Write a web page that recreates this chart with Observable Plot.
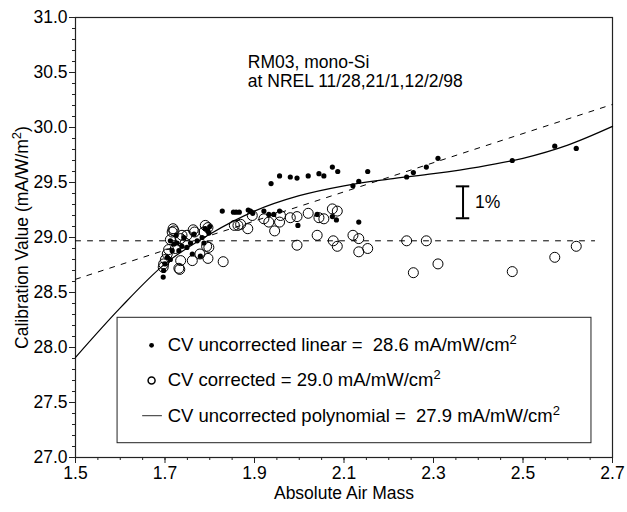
<!DOCTYPE html>
<html>
<head>
<meta charset="utf-8">
<script src="https://cdn.jsdelivr.net/npm/d3@7"></script>
<script src="https://cdn.jsdelivr.net/npm/@observablehq/plot@0.6"></script>
<style>
  html, body { margin: 0; padding: 0; background: #fff; }
</style>
</head>
<body>
<div id="chart"></div>
<script>
// ---- data ----
const uncorrAM = [1.696,1.697,1.700,1.705,1.712,1.716,1.720,1.712,1.727,1.731,1.738,1.749,1.757,1.761,1.772,1.779,1.783,1.787,1.796,1.798,1.725,1.742,1.765,1.790,1.800,
  1.828,1.853,1.859,1.866,1.886,1.891,1.896,1.921,1.932,1.943,1.956,1.997,2.040,2.074,2.083,2.133,
  1.937,1.956,1.980,1.995,2.020,2.044,2.055,2.074,2.086,2.120,2.133,2.153,2.240,2.255,2.284,2.310,2.476,2.571,2.619];
const uncorrCV = [28.64,28.70,28.76,28.82,28.80,28.88,28.94,28.97,28.95,28.88,28.92,28.91,28.95,28.85,28.97,28.83,29.00,28.95,29.06,29.04,29.02,29.00,29.03,29.08,29.10,
  29.24,29.23,29.23,29.23,29.25,29.24,29.22,29.24,29.21,29.21,29.24,29.11,29.21,29.19,29.16,29.14,
  29.49,29.56,29.55,29.54,29.56,29.58,29.56,29.64,29.60,29.47,29.51,29.60,29.55,29.59,29.64,29.72,29.70,29.83,29.81];

const corrAM = [1.696,1.697,1.701,1.705,1.708,1.723,1.716,1.718,1.720,1.735,1.738,1.749,1.763,1.766,1.787,1.790,1.796,1.793,1.798,1.796,1.778,1.761,1.731,1.733,1.735,1.830,1.745,1.712,
  1.855,1.863,1.869,1.885,1.895,1.921,1.932,1.945,1.956,1.958,1.980,1.995,1.995,2.020,2.040,2.044,2.055,2.074,2.076,2.085,2.085,
  2.120,2.133,2.133,2.153,2.240,2.255,2.284,2.310,2.476,2.571,2.619];
const corrCV = [28.73,28.76,28.80,28.85,28.89,28.90,29.05,29.08,29.06,28.99,29.02,29.02,29.07,29.05,29.05,29.11,29.09,28.92,28.91,28.81,28.85,28.79,28.72,28.71,28.79,28.78,28.95,28.98,
  29.11,29.11,29.12,29.08,29.20,29.17,29.14,29.06,29.14,29.20,29.18,29.19,28.93,29.22,29.02,29.18,29.17,29.26,28.97,29.24,28.92,
  29.02,28.99,28.87,28.90,28.97,28.68,28.97,28.76,28.69,28.82,28.92];

// polynomial fit curve
const polyAM = [1.5,1.6,1.7,1.8,1.9,2.0,2.1,2.2,2.3,2.4,2.5,2.6,2.7];
const polyCV = [27.91,28.36,28.76,29.03,29.24,29.38,29.47,29.53,29.58,29.64,29.72,29.84,30.01];

// linear fit (dashed) and corrected mean (dashed)
const linAM = [1.5, 2.7];
const linCV = [28.62, 30.21];
const corrLineAM = [1.5, 2.66];
const corrLineCV = [28.97, 28.97];

// 1% bar
const barAM = [2.366];
const barEnds = [29.175, 29.465];

const xTickLabels = [1.5, 1.7, 1.9, 2.1, 2.3, 2.5, 2.7];
const yTickLabels = [27.0, 27.5, 28.0, 28.5, 29.0, 29.5, 30.0, 30.5, 31.0];
const xMinorTicks = d3.range(0, 25).map(i => 1.5 + i * 0.05);
const yMinorTicks = d3.range(0, 41).map(i => 27 + i * 0.1);

const annotation = ["RM03, mono-Si", "at NREL 11/28,21/1,12/2/98"];
const legendLabels = [
  "CV uncorrected linear =  28.6 mA/mW/cm^2",
  "CV corrected = 29.0 mA/mW/cm^2",
  "CV uncorrected polynomial =  27.9 mA/mW/cm^2"
];

// ---- layout (positions in data space, not data) ----
const legendBox = {x1: 1.594, x2: 2.653, y1: 27.13, y2: 28.27};
const legendTextAM = 1.706;
const legendRowCV = [28.02, 27.70, 27.38];
const legendSymAM = 1.670;
const capHalf = 0.015;
const annotAM = 1.885, annotCV = 30.51;

const pts = (xs, ys) => xs.map((x, i) => ({x, y: ys[i]}));
const font = "Liberation Sans, Arial, Helvetica, sans-serif";

const chart = Plot.plot({
  width: 627,
  height: 512,
  marginLeft: 75,
  marginRight: 15,
  marginTop: 17,
  marginBottom: 55,
  style: {fontFamily: font, fontSize: "17px", color: "#000", background: "#fff"},
  x: {type: "linear", domain: [1.5, 2.7], label: null},
  y: {type: "linear", domain: [27, 31], label: null},
  marks: [
    Plot.frame({stroke: "#222", strokeWidth: 1.2}),
    Plot.axisX(xMinorTicks, {tickSize: 3, tickFormat: () => "", label: null, stroke: "#222"}),
    Plot.axisX(xTickLabels, {tickSize: 6, tickPadding: 3, tickFormat: d => d.toFixed(1), label: null, fontSize: 17.5, stroke: "#222"}),
    Plot.axisY(yMinorTicks, {tickSize: 3, tickFormat: () => "", label: null, stroke: "#222"}),
    Plot.axisY(yTickLabels, {tickSize: 6, tickPadding: 2, tickFormat: d => d.toFixed(1), label: null, fontSize: 17.5, stroke: "#222"}),
    Plot.text(["Absolute Air Mass"], {frameAnchor: "bottom", dy: 41, fontSize: 17.5}),
    Plot.text(["Calibration Value (mA/W/m^2)"], {frameAnchor: "left", textAnchor: "middle", rotate: -90, dx: -53, fontSize: 17.5}),

    // fits
    Plot.line(pts(corrLineAM, corrLineCV), {x: "x", y: "y", stroke: "#000", strokeWidth: 1, strokeDasharray: "5,7"}),
    Plot.line(pts(linAM, linCV), {x: "x", y: "y", stroke: "#000", strokeWidth: 1, strokeDasharray: "5,7"}),
    Plot.line(pts(polyAM, polyCV), {x: "x", y: "y", stroke: "#000", strokeWidth: 1.2, curve: "monotone-x"}),

    // data
    Plot.dot(pts(corrAM, corrCV), {x: "x", y: "y", r: 5, fill: "none", stroke: "#000", strokeWidth: 1}),
    Plot.dot(pts(uncorrAM, uncorrCV), {x: "x", y: "y", r: 2.6, fill: "#000", stroke: "none"}),

    // 1% bar
    Plot.ruleX(barAM, {x: d => d, y1: () => barEnds[0], y2: () => barEnds[1], stroke: "#000", strokeWidth: 2}),
    Plot.ruleY(barEnds, {y: d => d, x1: () => barAM[0] - capHalf, x2: () => barAM[0] + capHalf, stroke: "#000", strokeWidth: 2}),
    Plot.text(["1%"], {x: () => barAM[0], y: () => (barEnds[0] + barEnds[1]) / 2, dx: 12, textAnchor: "start", fontSize: 17.5}),

    // annotation
    Plot.text([annotation.join("\n")], {x: () => annotAM, y: () => annotCV, textAnchor: "start", fontSize: 17.5, lineHeight: 1.12}),

    // legend
    Plot.rect([legendBox], {x1: "x1", x2: "x2", y1: "y1", y2: "y2", fill: "#fff", stroke: "#222", strokeWidth: 1}),
    Plot.dot([0], {x: () => legendSymAM, y: () => legendRowCV[0], r: 2.4, fill: "#000"}),
    Plot.dot([0], {x: () => legendSymAM, y: () => legendRowCV[1], r: 3.5, fill: "none", stroke: "#000"}),
    Plot.line([legendSymAM - 0.02, legendSymAM + 0.022], {x: d => d, y: () => legendRowCV[2], stroke: "#555", strokeWidth: 1.2}),
    Plot.text(legendLabels, {x: () => legendTextAM, y: (d, i) => legendRowCV[i], textAnchor: "start", fontSize: 18.5})
  ]
});

// superscripts
d3.select(chart).selectAll("text").each(function() {
  const t = this.textContent;
  if (!t.includes("^")) return;
  const m = t.match(/^(.*)\^(\d)(.*)$/);
  const sel = d3.select(this);
  sel.text(null);
  sel.append("tspan").text(m[1]);
  sel.append("tspan").attr("dy", "-7").attr("font-size", "13").text(m[2]);
  if (m[3]) sel.append("tspan").attr("dy", "7").text(m[3]);
});

document.getElementById("chart").appendChild(chart);
</script>
</body>
</html>
